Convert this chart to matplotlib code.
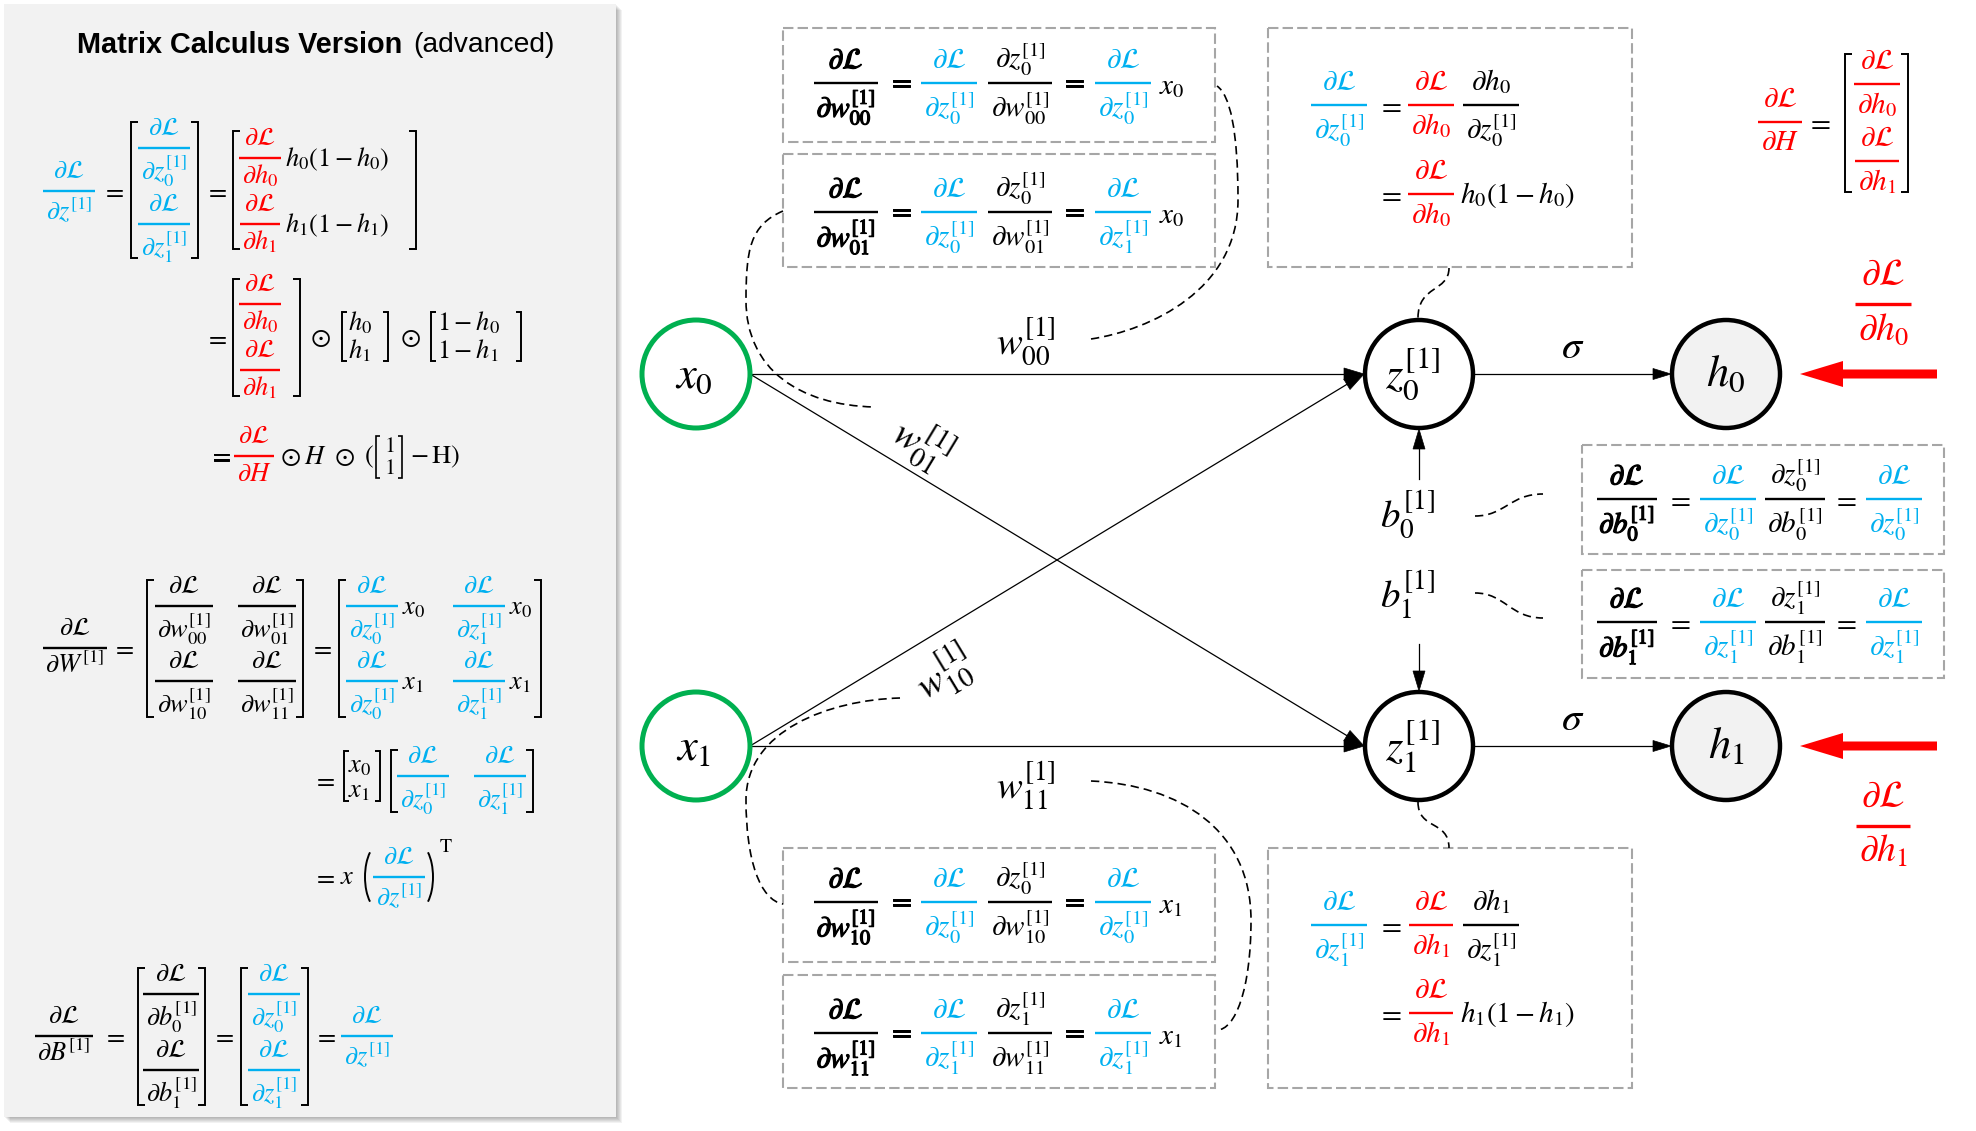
import math
import matplotlib
matplotlib.use('Agg')
import matplotlib.pyplot as plt
import matplotlib.patheffects as pe
from matplotlib.patches import Rectangle, Circle, Polygon, PathPatch, Arc
from matplotlib.path import Path

plt.rcParams['mathtext.fontset'] = 'stix'
plt.rcParams['font.family'] = ['DejaVu Sans']

# ---------------- labels / expressions (the "data") ----------------
TITLE_BOLD = 'Matrix Calculus Version'
TITLE_REG = '(advanced)'
INPUT_LABELS = [r'x_0', r'x_1']
HIDDEN_LABELS = [r'z_0^{[1]}', r'z_1^{[1]}']
OUTPUT_LABELS = [r'h_0', r'h_1']
BIAS_LABELS = [r'b_0^{[1]}', r'b_1^{[1]}']
WEIGHT_LABELS = [r'w_{00}^{[1]}', r'w_{01}^{[1]}', r'w_{10}^{[1]}', r'w_{11}^{[1]}']
ACTIVATION = r'\sigma'
DL = r'\partial\mathcal{L}'
# weight-gradient boxes: (weight index, z used in chain rule, z in result, x)
WEIGHT_EQS = [('00', '0', '0', '0'), ('01', '0', '1', '0'),
              ('10', '0', '0', '1'), ('11', '1', '1', '1')]
BIAS_IDX = ['0', '1']
NODE_IDX = ['0', '1']

# ---------------- style ----------------
W, H = 1976, 1131
BLUE, RED, GREEN, GRAY, PANEL = '#00b0f0', '#ff0000', '#00b050', '#a6a6a6', '#f2f2f2'
FS_L, FS_B, FS_N, FS_E = 19, 21, 32, 28

fig = plt.figure(figsize=(W / 100, H / 100), dpi=100)
ax = fig.add_axes([0, 0, 1, 1])
ax.set_xlim(0, W)
ax.set_ylim(H, 0)
ax.axis('off')
R = fig.canvas.get_renderer()


def em(fs):
    return fs * 100 / 72


def dbox(t):
    bb = t.get_window_extent(R)
    inv = ax.transData.inverted()
    (x0, y0), (x1, y1) = inv.transform([(bb.x0, bb.y0), (bb.x1, bb.y1)])
    return min(x0, x1), max(x0, x1), min(y0, y1), max(y0, y1)


def bold(t, w=0.9):
    t.set_path_effects([pe.withStroke(linewidth=w, foreground=t.get_color())])


def tx(x, y, s, color='k', fs=FS_B, ha='center', va='center', rot=0, b=False, **kw):
    t = ax.text(x, y, s, color=color, fontsize=fs, ha=ha, va=va, rotation=rot,
                rotation_mode='anchor', **kw)
    if b:
        bold(t, 0.7)
    return t


def frac(x, y, num, den, color='k', fs=FS_B, b=False, lw=1.7, pad=5):
    e = em(fs)
    tn = ax.text(x, y - 0.5 * e, '$' + num + '$', ha='center', va='baseline', color=color, fontsize=fs)
    nb = dbox(tn)[3]
    if nb > y - 0.18 * e:
        tn.set_y(y - 0.5 * e - (nb - (y - 0.18 * e)))
    td = ax.text(x, y + 0.95 * e, '$' + den + '$', ha='center', va='baseline', color=color, fontsize=fs)
    dt = dbox(td)[2]
    if dt < y + 0.2 * e:
        td.set_y(y + 0.95 * e + (y + 0.2 * e - dt))
    wn = dbox(tn)[1] - dbox(tn)[0]
    wd = dbox(td)[1] - dbox(td)[0]
    w = max(wn, wd) + pad
    if b:
        bold(tn)
        bold(td)
    ax.plot([x - w / 2, x + w / 2], [y, y], color=color, lw=lw, solid_capstyle='butt')


def brackets(x0, x1, y0, y1, color='k', lw=1.4, tick=7):
    ax.plot([x0 + tick, x0, x0, x0 + tick], [y0, y0, y1, y1], color=color, lw=lw,
            solid_joinstyle='miter', solid_capstyle='butt')
    ax.plot([x1 - tick, x1, x1, x1 - tick], [y0, y0, y1, y1], color=color, lw=lw,
            solid_joinstyle='miter', solid_capstyle='butt')


def arrow(p0, p1, hl=20, hw=12, color='k', lw=0.9):
    dx, dy = p1[0] - p0[0], p1[1] - p0[1]
    L = math.hypot(dx, dy)
    ux, uy = dx / L, dy / L
    bx, by = p1[0] - ux * hl, p1[1] - uy * hl
    ax.plot([p0[0], bx], [p0[1], by], color=color, lw=lw)
    nx, ny = -uy, ux
    ax.add_patch(Polygon([p1, (bx + nx * hw / 2, by + ny * hw / 2), (bx - nx * hw / 2, by - ny * hw / 2)],
                         closed=True, fc=color, ec=color, lw=0.5))


def red_arrow(x_tail, x_tip, y):
    hl, hw, sw = 43, 26, 9
    xb = x_tip + hl
    ax.add_patch(Polygon([(x_tip, y), (xb, y - hw / 2), (xb, y - sw / 2), (x_tail, y - sw / 2),
                          (x_tail, y + sw / 2), (xb, y + sw / 2), (xb, y + hw / 2)],
                         closed=True, fc=RED, ec=RED, lw=0))


def dashed_curve(pts):
    codes = [Path.MOVETO] + [Path.CURVE4] * (len(pts) - 1)
    ax.add_patch(PathPatch(Path(pts, codes), fc='none', ec='k', lw=1.2, ls=(0, (5, 3))))


def dbox_rect(x0, y0, x1, y1):
    ax.add_patch(Rectangle((x0, y0), x1 - x0, y1 - y0, fc='none', ec=GRAY, lw=1.5, ls=(0, (5, 2))))


# ---------------- left panel ----------------
for k in range(1, 7):
    ax.add_patch(Rectangle((4 + k, 4 + k), 612, 1113, fc='k', alpha=0.05, lw=0, zorder=0))
ax.add_patch(Rectangle((4, 4), 612, 1113, fc=PANEL, lw=0, zorder=0.5))

t1 = tx(402, 45, TITLE_BOLD, fs=22, ha='right', family='Liberation Sans', fontweight='bold')
w1 = dbox(t1)[1] - dbox(t1)[0]
t1.set_fontsize(22 * 325 / w1)
t2 = tx(413, 45, TITLE_REG, fs=22, ha='left', family='Liberation Sans')
w2 = dbox(t2)[1] - dbox(t2)[0]
t2.set_fontsize(22 * 141 / w2)

fl = FS_L
# dL/dz[1]
frac(69, 191, DL, r'\partial z^{[1]}', BLUE, fl)
tx(113, 191, '$=$', fs=fl)
brackets(131, 198, 122, 258)
frac(164, 148, DL, r'\partial z_0^{[1]}', BLUE, fl)
frac(164, 224, DL, r'\partial z_1^{[1]}', BLUE, fl)
tx(216, 191, '$=$', fs=fl)
brackets(233, 416, 131, 249)
for i, yy in zip(NODE_IDX, [158, 224]):
    frac(260, yy, DL, r'\partial h_%s' % i, RED, fl)
    tx(285, yy + 1, r'$h_%s(1-h_%s)$' % (i, i), fs=fl, ha='left')

tx(216, 338, '$=$', fs=fl)
brackets(233, 300, 279, 396)
frac(260, 304, DL, r'\partial h_0', RED, fl)
frac(260, 370, DL, r'\partial h_1', RED, fl)
tx(320, 338, r'$\odot$', fs=fl)
brackets(342, 388, 312, 361, tick=5)
tx(348, 323, r'$h_0$', fs=fl, ha='left')
tx(348, 351, r'$h_1$', fs=fl, ha='left')
tx(410, 338, r'$\odot$', fs=fl)
brackets(431, 521, 312, 361, tick=5)
tx(437, 323, r'$1-h_0$', fs=fl, ha='left')
tx(437, 351, r'$1-h_1$', fs=fl, ha='left')

tx(220, 457, '$=$', fs=fl, b=True)
frac(254, 456, DL, r'\partial H', RED, fl)
tx(290, 457, r'$\odot$', fs=fl)
tx(315, 457, r'$H$', fs=fl)
tx(344, 457, r'$\odot$', fs=fl)
tx(369, 457, r'$($', fs=fl)
brackets(376, 402, 436, 478, tick=4, lw=1.2)
tx(389, 446, r'$1$', fs=fl * 0.85)
tx(389, 468, r'$1$', fs=fl * 0.85)
tx(410, 457, r'$-\,\mathrm{H})$', fs=fl, ha='left')

# dL/dW[1]
frac(75, 648, DL, r'\partial W^{[1]}', 'k', fl)
tx(123, 648, '$=$', fs=fl)
brackets(147, 303, 580, 717)
frac(184, 606, DL, r'\partial w_{00}^{[1]}', 'k', fl)
frac(267, 606, DL, r'\partial w_{01}^{[1]}', 'k', fl)
frac(184, 681, DL, r'\partial w_{10}^{[1]}', 'k', fl)
frac(267, 681, DL, r'\partial w_{11}^{[1]}', 'k', fl)
tx(321, 648, '$=$', fs=fl)
brackets(339, 541, 580, 717)
for xi, yy in zip(['0', '1'], [606, 681]):
    frac(372, yy, DL, r'\partial z_0^{[1]}', BLUE, fl)
    tx(402, yy + 1, r'$x_%s$' % xi, fs=fl, ha='left')
    frac(479, yy, DL, r'\partial z_1^{[1]}', BLUE, fl)
    tx(509, yy + 1, r'$x_%s$' % xi, fs=fl, ha='left')

tx(324, 780, '$=$', fs=fl)
brackets(344, 380, 751, 801, tick=5)
tx(348, 765, r'$x_0$', fs=fl, ha='left')
tx(348, 790, r'$x_1$', fs=fl, ha='left')
brackets(391, 533, 750, 812)
frac(423, 776, DL, r'\partial z_0^{[1]}', BLUE, fl)
frac(500, 776, DL, r'\partial z_1^{[1]}', BLUE, fl)

tx(324, 877, '$=$', fs=fl)
tx(347, 877, r'$x$', fs=fl)
ax.add_patch(Arc((380, 877), 30, 66, theta1=112, theta2=248, lw=1.4, color='k'))
ax.add_patch(Arc((418, 877), 30, 66, theta1=-68, theta2=68, lw=1.4, color='k'))
frac(399, 877, DL, r'\partial z^{[1]}', BLUE, fl)
tx(446, 846, r'$\mathrm{T}$', fs=fl * 0.75)

# dL/dB[1]
frac(64, 1036, DL, r'\partial B^{[1]}', 'k', fl)
tx(114, 1036, '$=$', fs=fl)
brackets(138, 205, 968, 1105)
frac(171, 994, DL, r'\partial b_0^{[1]}', 'k', fl)
frac(171, 1070, DL, r'\partial b_1^{[1]}', 'k', fl)
tx(223, 1036, '$=$', fs=fl)
brackets(241, 308, 968, 1105)
frac(274, 994, DL, r'\partial z_0^{[1]}', BLUE, fl)
frac(274, 1070, DL, r'\partial z_1^{[1]}', BLUE, fl)
tx(325, 1036, '$=$', fs=fl)
frac(367, 1036, DL, r'\partial z^{[1]}', BLUE, fl)

# ---------------- network ----------------
IN_XY = [(696, 374), (696, 746)]
HID_XY = [(1419, 374), (1419, 746)]
OUT_XY = [(1726, 374), (1726, 746)]
RN = 54

for i in range(2):
    for j in range(2):
        arrow((IN_XY[i][0] + RN, IN_XY[i][1]), (HID_XY[j][0] - RN - 1, HID_XY[j][1]))
W_POS = [(1026, 341), (922, 443), (944, 673), (1026, 786)]
ang = math.degrees(math.atan2(HID_XY[1][1] - HID_XY[0][1], HID_XY[0][0] - IN_XY[0][0] - 2 * RN))
W_ROT = [0, -ang, ang, 0]
for lab, (x, y), r in zip(WEIGHT_LABELS, W_POS, W_ROT):
    tx(x, y, '$' + lab + '$', fs=FS_E, rot=r)

for j in range(2):
    arrow((HID_XY[j][0] + RN, HID_XY[j][1]), (OUT_XY[j][0] - RN - 1, OUT_XY[j][1]), hl=18, hw=11)
    tx(1573, HID_XY[j][1] - 27, '$' + ACTIVATION + '$', fs=29)

B_POS = [(1408, 514), (1408, 595)]
for lab, (x, y) in zip(BIAS_LABELS, B_POS):
    tx(x, y, '$' + lab + '$', fs=FS_E)
arrow((1419, 479), (1419, HID_XY[0][1] + RN + 1))
arrow((1419, 644), (1419, HID_XY[1][1] - RN - 1))

for lab, (x, y) in zip(INPUT_LABELS, IN_XY):
    ax.add_patch(Circle((x, y), RN, fc='white', ec=GREEN, lw=3.6, zorder=3))
    tx(x - 2, y + 2, '$' + lab + '$', fs=FS_N, zorder=4)
for lab, (x, y) in zip(HIDDEN_LABELS, HID_XY):
    ax.add_patch(Circle((x, y), RN, fc='white', ec='k', lw=3.2, zorder=3))
    tx(x - 6, y, '$' + lab + '$', fs=FS_N, zorder=4)
for lab, (x, y) in zip(OUTPUT_LABELS, OUT_XY):
    ax.add_patch(Circle((x, y), RN, fc=PANEL, ec='k', lw=3.2, zorder=3))
    tx(x, y, '$' + lab + '$', fs=FS_N, zorder=4)

red_arrow(1937, 1800, 374)
red_arrow(1937, 1800, 746)
frac(1883, 304, DL, r'\partial h_0', RED, 27, lw=2.4)
frac(1883, 826, DL, r'\partial h_1', RED, 27, lw=2.4)

frac(1780, 122, DL, r'\partial H', RED, FS_B)
tx(1818, 122, '$=$', fs=FS_B)
brackets(1845, 1908, 54, 192)
frac(1877, 84, DL, r'\partial h_0', RED, FS_B)
frac(1877, 161, DL, r'\partial h_1', RED, FS_B)

# ---------------- weight-gradient boxes ----------------
WBOX = [(28, 142, 83), (154, 267, 212), (848, 962, 902), (975, 1088, 1033)]
for (wi, zc, zr, xi), (y0, y1, yl) in zip(WEIGHT_EQS, WBOX):
    dbox_rect(783, y0, 1215, y1)
    frac(846, yl, DL, r'\partial w_{%s}^{[1]}' % wi, 'k', FS_B, b=True)
    tx(900, yl, '$=$', b=True)
    frac(949, yl, DL, r'\partial z_%s^{[1]}' % zc, BLUE)
    frac(1020, yl, r'\partial z_%s^{[1]}' % zc, r'\partial w_{%s}^{[1]}' % wi, 'k')
    tx(1073, yl, '$=$', b=True)
    frac(1123, yl, DL, r'\partial z_%s^{[1]}' % zr, BLUE)
    tx(1159, yl + 3, r'$x_%s$' % xi, ha='left')

# ---------------- node-gradient boxes ----------------
NBOX = [(28, 267, 105, 194), (848, 1088, 925, 1013)]
for i, (y0, y1, ya, yb) in zip(NODE_IDX, NBOX):
    dbox_rect(1268, y0, 1632, y1)
    frac(1339, ya, DL, r'\partial z_%s^{[1]}' % i, BLUE)
    tx(1389, ya, '$=$')
    frac(1431, ya, DL, r'\partial h_%s' % i, RED)
    frac(1491, ya, r'\partial h_%s' % i, r'\partial z_%s^{[1]}' % i, 'k')
    tx(1389, yb, '$=$')
    frac(1431, yb, DL, r'\partial h_%s' % i, RED)
    tx(1460, yb + 1, r'$h_%s(1-h_%s)$' % (i, i), ha='left')

# ---------------- bias-gradient boxes ----------------
BBOX = [(445, 554, 499), (570, 678, 622)]
for i, (y0, y1, yl) in zip(BIAS_IDX, BBOX):
    dbox_rect(1582, y0, 1944, y1)
    frac(1627, yl, DL, r'\partial b_%s^{[1]}' % i, 'k', FS_B, b=True)
    tx(1678, yl, '$=$')
    frac(1728, yl, DL, r'\partial z_%s^{[1]}' % i, BLUE)
    frac(1795, yl, r'\partial z_%s^{[1]}' % i, r'\partial b_%s^{[1]}' % i, 'k')
    tx(1844, yl, '$=$')
    frac(1894, yl, DL, r'\partial z_%s^{[1]}' % i, BLUE)

# ---------------- dashed connectors ----------------
dashed_curve([(783, 211), (750, 225), (746, 250), (746, 300), (746, 370), (800, 405), (874, 407)])
dashed_curve([(1091, 339), (1150, 330), (1238, 290), (1238, 200), (1238, 130), (1230, 95), (1217, 86)])
dashed_curve([(1449, 268), (1449, 292), (1418, 285), (1418, 318)])
dashed_curve([(1475, 516), (1505, 516), (1510, 494), (1543, 494)])
dashed_curve([(1475, 593), (1505, 593), (1510, 618), (1543, 618)])
dashed_curve([(1418, 802), (1418, 830), (1449, 820), (1449, 848)])
dashed_curve([(900, 698), (830, 700), (746, 730), (746, 800), (746, 860), (760, 900), (783, 904)])
dashed_curve([(1091, 781), (1180, 785), (1251, 830), (1251, 920), (1251, 990), (1235, 1030), (1217, 1030)])

fig.savefig('out.png', dpi=100)
